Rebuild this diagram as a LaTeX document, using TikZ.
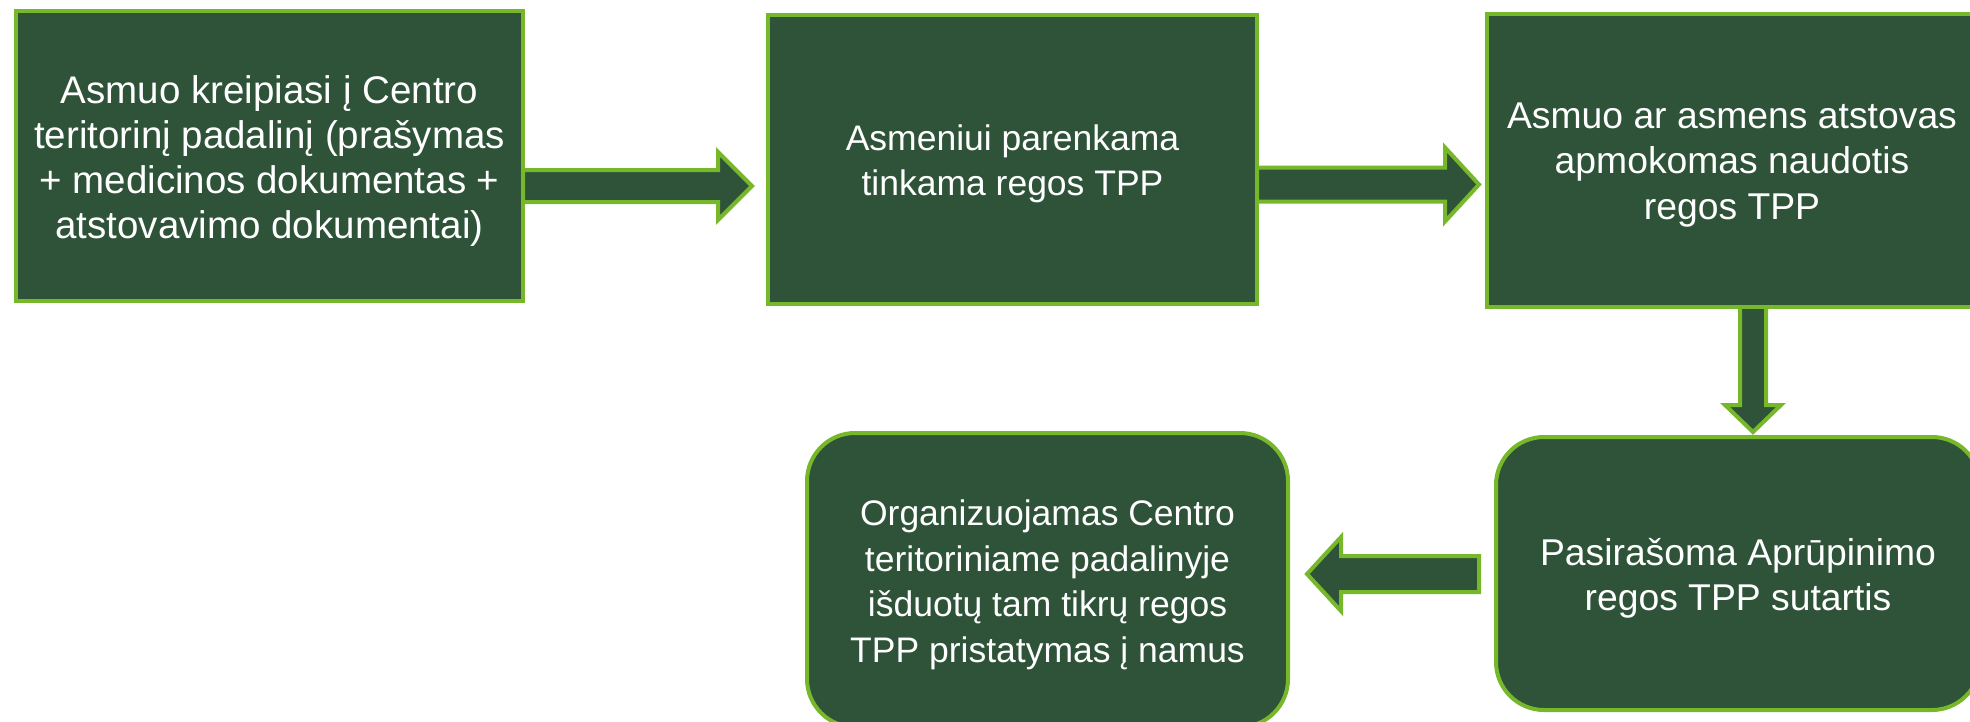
\documentclass[tikz,border=0pt]{standalone}
\usepackage{fontspec}
\setmainfont{Liberation Sans}
\usetikzlibrary{calc,backgrounds}
\definecolor{boxfill}{HTML}{2E5339}
\definecolor{boxline}{HTML}{77B82A}
\tikzset{
  stepbox/.style={draw=boxline, line width=4pt, fill=boxfill,
    anchor=north west, inner sep=0pt, outer sep=0pt},
  steptext/.style={text=white, inner sep=0pt, align=center},
  blk/.style={draw=boxline, line width=4pt, fill=boxfill, line join=miter}
}
% horizontal block arrow: start, tip, signed head length, half shaft, half head
\newcommand{\hblkarrow}[5]{%
  \draw[blk] ($(#1)+(0,#4)$) -- ($(#2)+({-(#3)},#4)$) -- ($(#2)+({-(#3)},#5)$) -- (#2)
    -- ($(#2)+({-(#3)},{-(#5)})$) -- ($(#2)+({-(#3)},{-(#4)})$) -- ($(#1)+(0,{-(#4)})$) -- cycle;}
\newcommand{\vblkarrow}[5]{% downward
  \draw[blk] ($(#1)+(#4,0)$) -- ($(#2)+(#4,#3)$) -- ($(#2)+(#5,#3)$) -- (#2)
    -- ($(#2)+({-(#5)},#3)$) -- ($(#2)+({-(#4)},#3)$) -- ($(#1)+({-(#4)},0)$) -- cycle;}
\begin{document}
\begin{tikzpicture}[x=1pt,y=1pt]
\useasboundingbox (0,0) rectangle (1970,-721);

\node[stepbox, minimum width=507pt, minimum height=290pt] (b1) at (16,-11) {};
\node[stepbox, minimum width=489pt, minimum height=289pt] (b2) at (768,-14.5) {};
\node[stepbox, minimum width=490pt, minimum height=293pt] (b3) at (1487,-13.5) {};
\node[stepbox, rounded corners=48pt, minimum width=484pt, minimum height=273pt] (b4) at (1496,-437) {};
\node[stepbox, rounded corners=48pt, minimum width=481pt, minimum height=294pt] (b5) at (807,-433) {};

\node[steptext, font=\fontsize{38.5}{45}\selectfont] (t1) at ($(b1.center)+(0,-5)$)
  {Asmuo kreipiasi į Centro\\teritorinį padalinį (prašymas\\+ medicinos dokumentas +\\atstovavimo dokumentai)};
\node[steptext, font=\fontsize{35.5}{45}\selectfont] (t2) at ($(b2.center)+(0,-5)$)
  {Asmeniui parenkama\\tinkama regos TPP};
\node[steptext, font=\fontsize{37.3}{45.5}\selectfont] (t3) at ($(b3.center)+(0,-5)$)
  {Asmuo ar asmens atstovas\\apmokomas naudotis\\regos TPP};
\node[steptext, font=\fontsize{37.3}{45.5}\selectfont] (t4) at ($(b4.center)+(0,-5)$)
  {Pasirašoma Aprūpinimo\\regos TPP sutartis};
\node[steptext, font=\fontsize{35.5}{45.5}\selectfont] (t5) at ($(b5.center)+(0,-5)$)
  {Organizuojamas Centro\\teritoriniame padalinyje\\išduotų tam tikrų regos\\TPP pristatymas į namus};

\coordinate (a1s) at (b1.east |- 0,-186);
\coordinate (a1t) at ($(b2.west |- 0,-186)+(-16,0)$);
\coordinate (a2s) at (b2.east |- 0,-184.5);
\coordinate (a2t) at ($(b3.west |- 0,-184.5)+(-8,0)$);
\coordinate (a3s) at (b3.south -| 1753,0);
\coordinate (a3t) at ($(b4.north -| 1753,0)+(0,5)$);
\coordinate (a4s) at ($(b4.west |- 0,-574)+(-17,0)$);
\coordinate (a4t) at ($(b5.east |- 0,-574)+(19,0)$);

\begin{scope}[on background layer]
  \hblkarrow{a1s}{a1t}{34}{16}{34}
  \hblkarrow{a2s}{a2t}{34}{17}{37}
  \vblkarrow{a3s}{a3t}{27}{13}{28}
  \hblkarrow{a4s}{a4t}{-34}{18}{37}
\end{scope}
\end{tikzpicture}
\end{document}
